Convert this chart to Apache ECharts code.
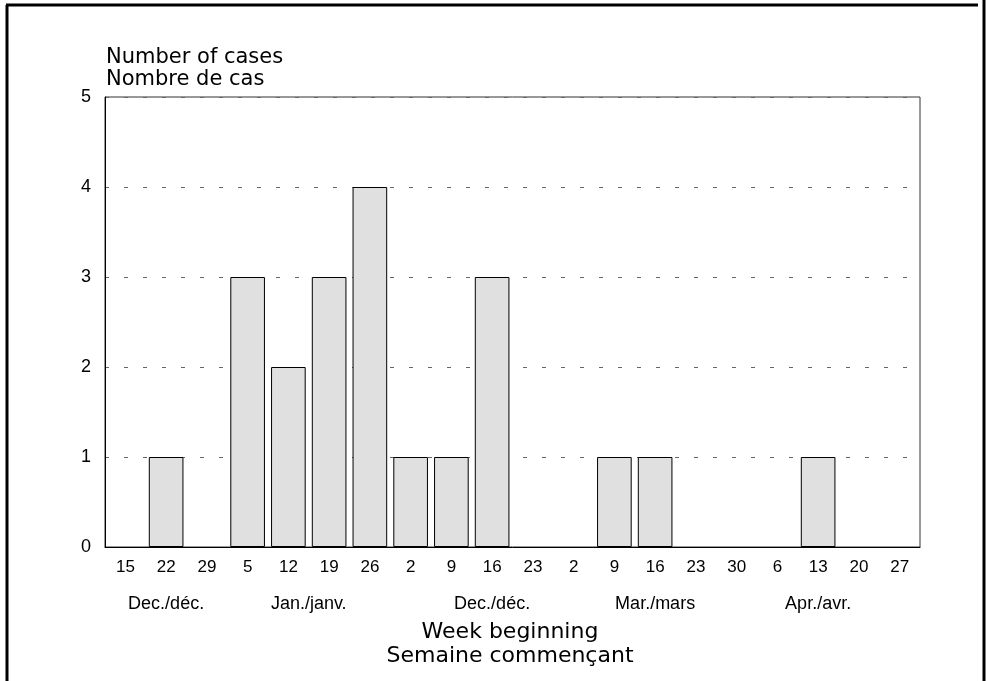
<!DOCTYPE html>
<html lang="en">
<head>
    <meta charset="UTF-8">
    <script src="https://cdn.jsdelivr.net/npm/echarts@6/dist/echarts.min.js"></script>
    <style>
        body { margin: 0; background: #fff; }
        #chart { width: 990px; height: 681px; }
    </style>
</head>
<body>
<div id="chart"></div>
<script>
    // week labels (day of month) and number of cases
    var weeks = ['15', '22', '29', '5', '12', '19', '26', '2', '9', '16', '23', '2', '9', '16', '23', '30', '6', '13', '20', '27'];
    var cases = [0, 1, 0, 3, 2, 3, 4, 1, 1, 3, 0, 0, 1, 1, 0, 0, 0, 1, 0, 0];
    // month labels, keyed by position on the week scale
    var monthPos = [1.5, 5, 9.5, 13.5, 17.5];
    var monthNames = ['Dec./déc.', 'Jan./janv.', 'Dec./déc.', 'Mar./mars', 'Apr./avr.'];

    var chart = echarts.init(document.getElementById('chart'));

    // zero weeks: no outline drawn on the baseline
    var barData = cases.map(function (v) {
        return v === 0 ? { value: 0, itemStyle: { opacity: 0 } } : v;
    });

    var option = {
        animation: false,
        grid: {
            left: 105, right: 70, top: 97, bottom: 134,
            show: true, borderColor: '#333', borderWidth: 1
        },
        xAxis: [
            {
                type: 'category',
                data: weeks,
                axisLine: { lineStyle: { color: '#000' } },
                axisTick: { show: false },
                axisLabel: { color: '#000', fontFamily: 'Liberation Sans', fontSize: 17, margin: 12, interval: 0 }
            },
            {
                type: 'value',
                position: 'bottom',
                offset: 40,
                min: 0, max: 20, interval: 0.5,
                axisLine: { show: false },
                axisTick: { show: false },
                splitLine: { show: false },
                axisLabel: {
                    color: '#000', fontFamily: 'Liberation Sans', fontSize: 18, margin: 8,
                    showMinLabel: false, showMaxLabel: false,
                    formatter: function (v) {
                        var i = monthPos.indexOf(v);
                        return i >= 0 ? monthNames[i] : '';
                    }
                }
            }
        ],
        yAxis: {
            type: 'value',
            min: 0, max: 5, interval: 1,
            axisLine: { show: true, lineStyle: { color: '#000' } },
            axisTick: { show: false },
            axisLabel: { color: '#000', fontFamily: 'Liberation Sans', fontSize: 18, margin: 14 },
            splitLine: { lineStyle: { color: '#666', type: [4, 15], width: 1 } }
        },
        series: [{
            type: 'bar',
            data: barData,
            barWidth: '85%',
            itemStyle: { color: '#e0e0e0', borderColor: '#000', borderWidth: 1 }
        }],
        graphic: [
            { type: 'line', shape: { x1: 6, y1: 5, x2: 978, y2: 5 }, style: { stroke: '#000', lineWidth: 3 } },
            { type: 'line', shape: { x1: 7, y1: 5, x2: 7, y2: 681 }, style: { stroke: '#000', lineWidth: 3 } },
            { type: 'line', shape: { x1: 984, y1: 0, x2: 984, y2: 681 }, style: { stroke: '#000', lineWidth: 3 } },
            {
                type: 'text', x: 106, y: 47,
                style: { text: 'Number of cases\nNombre de cas', font: '21px "DejaVu Sans"', lineHeight: 22, fill: '#000' }
            },
            {
                type: 'text', x: 510, y: 620,
                style: { text: 'Week beginning\nSemaine commençant', font: '22px "DejaVu Sans"', lineHeight: 24, fill: '#000', align: 'center' }
            }
        ]
    };
    chart.setOption(option);
</script>
</body>
</html>
